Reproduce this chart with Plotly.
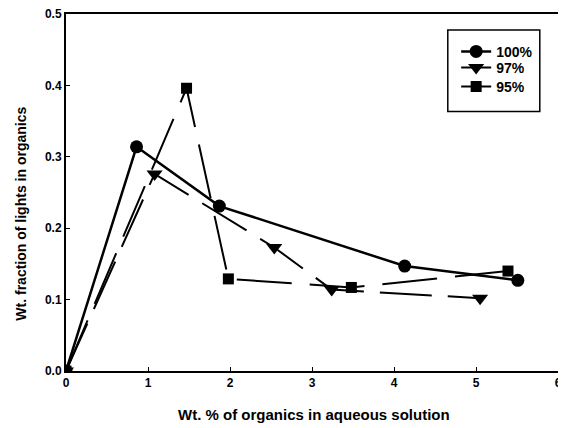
import plotly.graph_objects as go

# data
x_100 = [0, 0.86, 1.87, 4.13, 5.51]
y_100 = [0.0, 0.314, 0.231, 0.147, 0.127]

x_97 = [0, 1.08, 2.54, 3.24, 5.05]
y_97 = [0.0, 0.276, 0.173, 0.114, 0.102]

x_95 = [0, 1.47, 1.98, 3.48, 5.39]
y_95 = [0.0, 0.396, 0.129, 0.117, 0.140]

FONT = "Arial, Liberation Sans, sans-serif"

fig = go.Figure()
fig.add_trace(go.Scatter(
    x=x_100, y=y_100, name="100%", mode="lines+markers", legend="legend",
    line=dict(color="black", width=2.5),
    marker=dict(symbol="circle", size=13, color="black"),
))
fig.add_trace(go.Scatter(
    x=x_97, y=y_97, name="97%", mode="lines+markers", legend="legend2",
    line=dict(color="black", width=2, dash="52px,16px"),
    marker=dict(symbol="triangle-down", size=14, color="black"),
))
fig.add_trace(go.Scatter(
    x=x_95, y=y_95, name="95%", mode="lines+markers", legend="legend3",
    line=dict(color="black", width=2, dash="55px,18px"),
    marker=dict(symbol="square", size=11, color="black"),
))

axis_common = dict(
    showline=True, linecolor="black", linewidth=2, mirror=True,
    ticks="inside", ticklen=4, tickcolor="black", showgrid=False, zeroline=False,
    tickfont=dict(family=FONT, size=12, color="black", weight="bold"),
    automargin=False, ticklabeloverflow="allow",
)
fig.update_xaxes(range=[0, 6], tickvals=[0, 1, 2, 3, 4, 5, 6], **axis_common)
fig.update_yaxes(range=[0, 0.5], tickvals=[0, 0.1, 0.2, 0.3, 0.4, 0.5], tickformat=".1f", **axis_common)

# axis titles as annotations so they sit where the reference has them
fig.add_annotation(
    text="Wt. % of organics in aqueous solution",
    xref="paper", yref="paper", x=0.504, y=-0.123,
    xanchor="center", yanchor="middle", showarrow=False,
    font=dict(family=FONT, size=15, color="black", weight="bold"),
)
fig.add_annotation(
    text="Wt. fraction of lights in organics", textangle=-90,
    xref="paper", yref="paper", x=-0.092, y=0.44,
    xanchor="center", yanchor="middle", showarrow=False,
    font=dict(family=FONT, size=14, color="black", weight="bold"),
)
# legend frame; entries are packed tighter than one plotly legend allows
fig.add_shape(
    type="rect", xref="paper", yref="paper",
    x0=0.776, x1=0.963, y0=0.727, y1=0.955,
    line=dict(color="black", width=1.5), fillcolor="rgba(0,0,0,0)",
)

leg = dict(
    x=0.793, xanchor="left", yanchor="middle",
    borderwidth=0, bgcolor="rgba(0,0,0,0)",
    font=dict(family=FONT, size=14, color="black", weight="bold"),
    itemwidth=30,
)

# page has an 8px body margin, so the figure is sized to fit the window
fig.update_layout(
    width=558, height=420,
    margin=dict(l=58, r=8, t=6, b=57),
    plot_bgcolor="white", paper_bgcolor="white",
    font=dict(family=FONT, color="black"),
    showlegend=True,
    legend=dict(y=0.894, **leg),
    legend2=dict(y=0.849, **leg),
    legend3=dict(y=0.796, **leg),
)
fig.write_html("out.html")
